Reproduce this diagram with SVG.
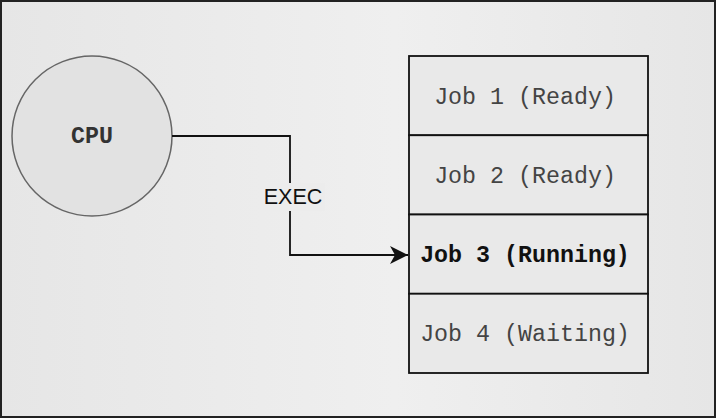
<svg xmlns="http://www.w3.org/2000/svg" width="716" height="419" viewBox="0 0 716 419">
<style>
.mono{font-family:"Liberation Mono","Courier New",monospace;font-size:23.3px;fill:#444}
.bold{font-weight:bold;fill:#111}
.cell{fill:#e9e9e9;stroke:#111;stroke-width:1.8}
.conn{fill:none;stroke:#111;stroke-width:1.8}
</style>
<defs>
<linearGradient id="bg" x1="0" y1="0" x2="1" y2="0">
<stop offset="0" stop-color="#e6e6e6"/>
<stop offset="0.55" stop-color="#efefef"/>
<stop offset="1" stop-color="#e6e6e6"/>
</linearGradient>
<marker id="arr" markerWidth="20" markerHeight="18" refX="18" refY="9" orient="auto" markerUnits="userSpaceOnUse">
<path d="M0,0 L18,9 L0,18 L5,9 Z" fill="#111"/>
</marker>
</defs>
<rect x="1" y="1" width="714" height="416" fill="url(#bg)" stroke="#222" stroke-width="2"/>
<g id="cpu">
<circle cx="92" cy="136" r="80" fill="#e2e2e2" stroke="#666" stroke-width="1.5"/>
<text class="mono bold" x="92" y="137" text-anchor="middle" dominant-baseline="central" style="fill:#333">CPU</text>
</g>
<g id="connectors">
<path class="conn" d="M172,136 H290 V255 H408" marker-end="url(#arr)"/>
<rect x="261" y="183" width="64" height="28" fill="#ececec"/>
<text x="293" y="197" text-anchor="middle" dominant-baseline="central" font-family="'Liberation Sans',Arial,sans-serif" font-size="21.5" fill="#111">EXEC</text>
</g>
<g id="job1">
<rect class="cell" x="409" y="56" width="239" height="79.25"/>
<text class="mono" x="525" y="97.5" text-anchor="middle" dominant-baseline="central">Job 1 (Ready)</text>
</g>
<g id="job2">
<rect class="cell" x="409" y="135.25" width="239" height="79.25"/>
<text class="mono" x="525" y="176.5" text-anchor="middle" dominant-baseline="central">Job 2 (Ready)</text>
</g>
<g id="job3">
<rect class="cell" x="409" y="214.5" width="239" height="79.25"/>
<text class="mono bold" x="525" y="255.5" text-anchor="middle" dominant-baseline="central">Job 3 (Running)</text>
</g>
<g id="job4">
<rect class="cell" x="409" y="293.75" width="239" height="79.25"/>
<text class="mono" x="525" y="334.5" text-anchor="middle" dominant-baseline="central">Job 4 (Waiting)</text>
</g>
</svg>
